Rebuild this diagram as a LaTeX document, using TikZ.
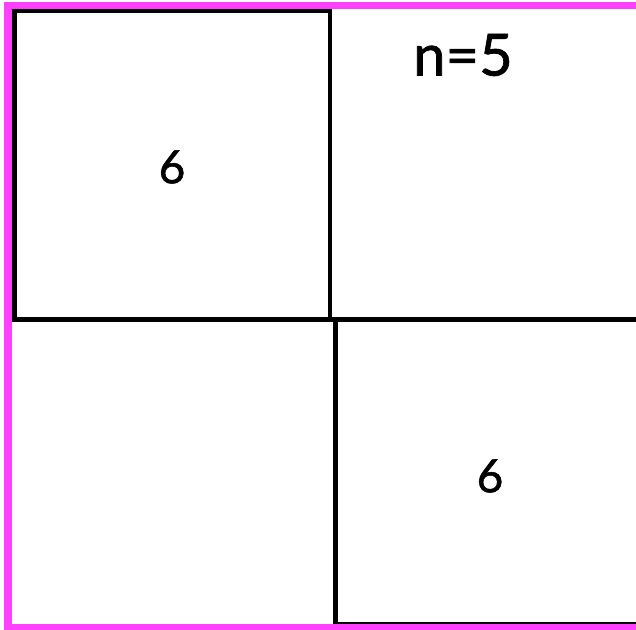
\documentclass[tikz,border=0pt]{standalone}
\usepackage{fontspec}
\setmainfont{Lato}[FakeBold=1.2]
\definecolor{frame}{RGB}{255,64,255}
\tikzset{
  blackbox/.style={draw=black, line width=4.5pt},
  outer/.style={draw=frame, line width=7.5pt},
  lbl/.style={inner sep=0pt, font=\fontsize{46}{48}\selectfont},
  title/.style={inner sep=0pt, font=\fontsize{58}{60}\selectfont}
}
\begin{document}
\begin{tikzpicture}[x=1pt, y=-1pt]
\useasboundingbox (0,0) rectangle (636,629);
\clip (0,0) rectangle (636,629);
\fill[white] (0,0) rectangle (636,629);
\draw[blackbox] (14.5,11) rectangle (330,319.5);
\draw[blackbox] (14.5,319.5) -- (700,319.5);
\draw[blackbox] (335.5,319.5) rectangle (700,624);
\draw[outer] (8,5.5) rectangle (700,628);
\node[lbl] (a) at (172,167) {6};
\node[lbl] (b) at (490,476) {6};
\node[title] (n) at (463,55) {n=5};
\end{tikzpicture}
\end{document}
